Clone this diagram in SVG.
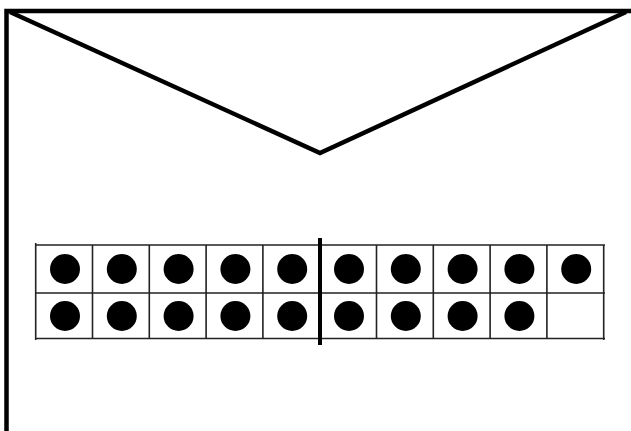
<svg xmlns="http://www.w3.org/2000/svg" width="631" height="431" viewBox="0 0 631 431">
<style>
.env{fill:none;stroke:#000;stroke-width:4.5;stroke-linejoin:miter}
.grid{fill:none;stroke:#222;stroke-width:1.6}
.dot{fill:#000}
</style>
<rect width="631" height="431" fill="#fff"/>
<g id="envelope">
<path class="env" d="M6.5,431 V11 H631"/>
<path class="env" d="M10,12 L320,153 L626,12"/>
</g>
<g id="tenframe">
<path class="grid" d="M35,245 H605 M35,293 H605 M35,338.5 H605 M35.7,243 V340 M92.5,245 V338 M149.3,245 V338 M206.1,245 V338 M262.9,245 V338 M376.5,245 V338 M433.3,245 V338 M490.1,245 V338 M546.9,245 V338 M603.7,245 V340"/>
<path d="M320,238 V345" stroke="#000" stroke-width="4"/>
<g class="dot">
<circle cx="65" cy="269" r="15"/><circle cx="121.8" cy="269" r="15"/><circle cx="178.6" cy="269" r="15"/><circle cx="235.4" cy="269" r="15"/><circle cx="292.2" cy="269" r="15"/><circle cx="349" cy="269" r="15"/><circle cx="405.8" cy="269" r="15"/><circle cx="462.6" cy="269" r="15"/><circle cx="519.4" cy="269" r="15"/><circle cx="576.2" cy="269" r="15"/>
<circle cx="65" cy="316" r="15"/><circle cx="121.8" cy="316" r="15"/><circle cx="178.6" cy="316" r="15"/><circle cx="235.4" cy="316" r="15"/><circle cx="292.2" cy="316" r="15"/><circle cx="349" cy="316" r="15"/><circle cx="405.8" cy="316" r="15"/><circle cx="462.6" cy="316" r="15"/><circle cx="519.4" cy="316" r="15"/>
</g>
</g>
</svg>
